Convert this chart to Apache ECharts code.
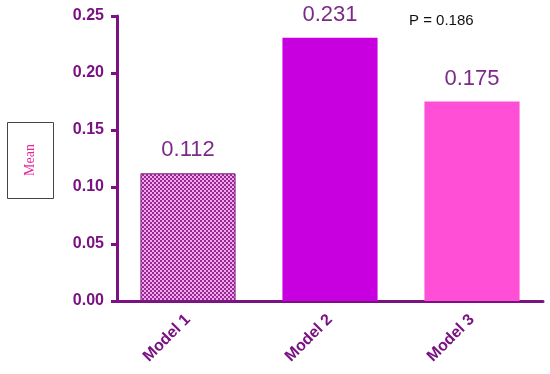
<!DOCTYPE html>
<html>
<head>
<meta charset="utf-8">
<script src="https://cdn.jsdelivr.net/npm/echarts@6/dist/echarts.min.js"></script>
<style>
    html, body { margin: 0; padding: 0; background: #fff; }
    #main { width: 550px; height: 374px; }
</style>
</head>
<body>
<div id="main"></div>
<script>
var models = ['Model 1', 'Model 2', 'Model 3'];
var means = [0.112, 0.231, 0.175];
var yTicks = [0, 0.05, 0.1, 0.15, 0.2, 0.25];
var pText = 'P = 0.186';

var axisColor = '#7a1283';

// checkered fill for the first bar
var tile = document.createElement('canvas');
tile.width = 4;
tile.height = 4;
var ctx = tile.getContext('2d');
ctx.fillStyle = '#f2a6ef';
ctx.fillRect(0, 0, 4, 4);
ctx.fillStyle = '#962a8f';
ctx.fillRect(0, 0, 2, 2);
ctx.fillRect(2, 2, 2, 2);

var barStyles = [
    { color: { image: tile, repeat: 'repeat' }, borderColor: '#7a1a80', borderWidth: 1 },
    { color: '#c800e0' },
    { color: '#ff4fd6' }
];

var chartDom = document.getElementById('main');
var myChart = echarts.init(chartDom);

var option = {
    animation: false,
    grid: { left: 117, right: 7, top: 16, bottom: 73 },
    xAxis: {
        type: 'category',
        data: models,
        axisLine: { lineStyle: { color: axisColor, width: 3 } },
        axisTick: { alignWithLabel: true, length: 7, lineStyle: { color: axisColor, width: 3 } },
        axisLabel: {
            rotate: 45,
            margin: 16,
            color: axisColor,
            fontFamily: 'Liberation Sans, Arial',
            fontWeight: 'bold',
            fontSize: 16
        }
    },
    yAxis: {
        type: 'value',
        min: yTicks[0],
        max: yTicks[yTicks.length - 1],
        interval: 0.05,
        splitLine: { show: false },
        axisLine: { show: true, lineStyle: { color: axisColor, width: 3 } },
        axisTick: { show: true, length: 6, lineStyle: { color: axisColor, width: 3 } },
        axisLabel: {
            margin: 13,
            color: axisColor,
            fontFamily: 'Liberation Sans, Arial',
            fontWeight: 'bold',
            fontSize: 16,
            formatter: function (v) { return v.toFixed(2); }
        }
    },
    series: [{
        type: 'bar',
        barWidth: '67%',
        data: means.map(function (v, i) {
            return { value: v, itemStyle: barStyles[i] };
        }),
        label: {
            show: true,
            position: 'top',
            distance: 12,
            color: '#7b2a88',
            fontFamily: 'Liberation Sans, Arial',
            fontSize: 22,
            formatter: function (p) { return p.value.toFixed(3); }
        }
    }],
    graphic: [{
        type: 'rect',
        shape: { x: 7.5, y: 122.5, width: 46, height: 76 },
        style: { fill: '#fff', stroke: '#444', lineWidth: 1 }
    }, {
        // reads bottom to top (zrender rotation is counterclockwise)
        type: 'text',
        x: 30,
        y: 160,
        rotation: Math.PI / 2,
        originX: 0,
        originY: 0,
        style: {
            text: 'Mean',
            fill: '#e4289a',
            font: '14px "Liberation Serif", "Times New Roman", serif',
            align: 'center',
            verticalAlign: 'middle'
        }
    }, {
        type: 'text',
        left: 409,
        top: 13,
        style: {
            text: pText,
            fill: '#111',
            font: '15px "Liberation Sans", Arial, sans-serif'
        }
    }]
};

option && myChart.setOption(option);
</script>
</body>
</html>
